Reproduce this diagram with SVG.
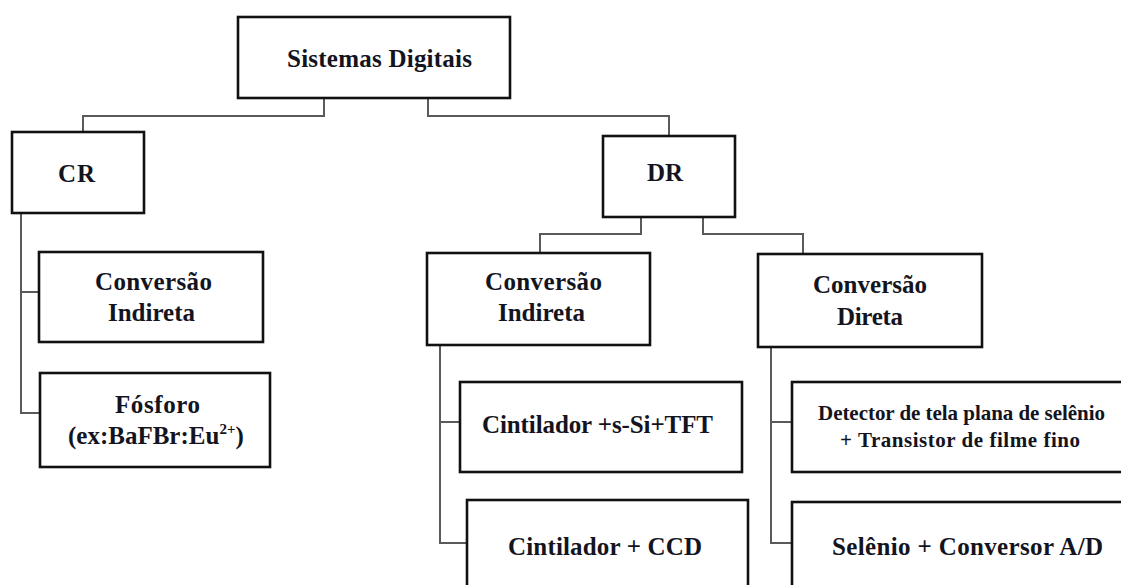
<svg xmlns="http://www.w3.org/2000/svg" width="1121" height="585" viewBox="0 0 1121 585">
  <style>
    .box { fill: #ffffff; stroke: #111111; stroke-width: 2.6; }
    .conn { fill: none; stroke: #5a5a5a; stroke-width: 2; }
    .t { font-family: "Liberation Serif", "Times New Roman", serif; font-weight: bold; font-size: 25px; fill: #14141e; }
    .s { font-size: 21px; }
  </style>
  <rect width="1121" height="585" fill="#ffffff"/>
  <g id="connectors">
    <path class="conn" d="M324,98 V116 H83 V132"/>
    <path class="conn" d="M428,98 V116 H669 V136"/>
    <path class="conn" d="M21,213 V413 H40"/>
    <path class="conn" d="M21,292 H39"/>
    <path class="conn" d="M641,217 V234 H540 V253"/>
    <path class="conn" d="M703,217 V234 H803 V254"/>
    <path class="conn" d="M440,345 V543 H467"/>
    <path class="conn" d="M440,422 H460"/>
    <path class="conn" d="M771,347 V543 H792"/>
    <path class="conn" d="M771,422 H792"/>
  </g>
  <g id="sistemas-digitais">
    <rect class="box" x="238" y="17" width="272" height="81"/>
    <text class="t" x="287" y="67" textLength="185" lengthAdjust="spacing">Sistemas Digitais</text>
  </g>
  <g id="cr">
    <rect class="box" x="12" y="132" width="132" height="81"/>
    <text class="t" x="58" y="182" textLength="37" lengthAdjust="spacing">CR</text>
  </g>
  <g id="dr">
    <rect class="box" x="603" y="136" width="132" height="81"/>
    <text class="t" x="647" y="181" textLength="36" lengthAdjust="spacing">DR</text>
  </g>
  <g id="cr-conversao-indireta">
    <rect class="box" x="39" y="252" width="224" height="90"/>
    <text class="t" x="95" y="290" textLength="117" lengthAdjust="spacing">Conversão</text>
    <text class="t" x="108" y="321" textLength="87" lengthAdjust="spacing">Indireta</text>
  </g>
  <g id="fosforo">
    <rect class="box" x="40" y="373" width="230" height="94"/>
    <text class="t" x="115" y="413" textLength="85" lengthAdjust="spacing">Fósforo</text>
    <text class="t" x="68" y="444">(ex:BaFBr:Eu<tspan font-size="15" dy="-10">2+</tspan><tspan dy="10">)</tspan></text>
  </g>
  <g id="dr-conversao-indireta">
    <rect class="box" x="427" y="253" width="223" height="92"/>
    <text class="t" x="485" y="290" textLength="117" lengthAdjust="spacing">Conversão</text>
    <text class="t" x="498" y="321" textLength="87" lengthAdjust="spacing">Indireta</text>
  </g>
  <g id="conversao-direta">
    <rect class="box" x="758" y="254" width="224" height="93"/>
    <text class="t" x="813" y="293" textLength="114" lengthAdjust="spacing">Conversão</text>
    <text class="t" x="837" y="325" textLength="66" lengthAdjust="spacing">Direta</text>
  </g>
  <g id="cintilador-tft">
    <rect class="box" x="460" y="382" width="282" height="90"/>
    <text class="t" x="482" y="433" textLength="231" lengthAdjust="spacing">Cintilador +s-Si+TFT</text>
  </g>
  <g id="cintilador-ccd">
    <rect class="box" x="467" y="500" width="281" height="110"/>
    <text class="t" x="508" y="555" textLength="194" lengthAdjust="spacing">Cintilador + CCD</text>
  </g>
  <g id="detector">
    <rect class="box" x="792" y="382" width="340" height="90"/>
    <text class="t s" x="818" y="420" textLength="287" lengthAdjust="spacing">Detector de tela plana de selênio</text>
    <text class="t s" x="840" y="447" textLength="240" lengthAdjust="spacing">+ Transistor de filme fino</text>
  </g>
  <g id="selenio">
    <rect class="box" x="792" y="502" width="340" height="110"/>
    <text class="t" x="832" y="555" textLength="271" lengthAdjust="spacing">Selênio + Conversor A/D</text>
  </g>
</svg>
